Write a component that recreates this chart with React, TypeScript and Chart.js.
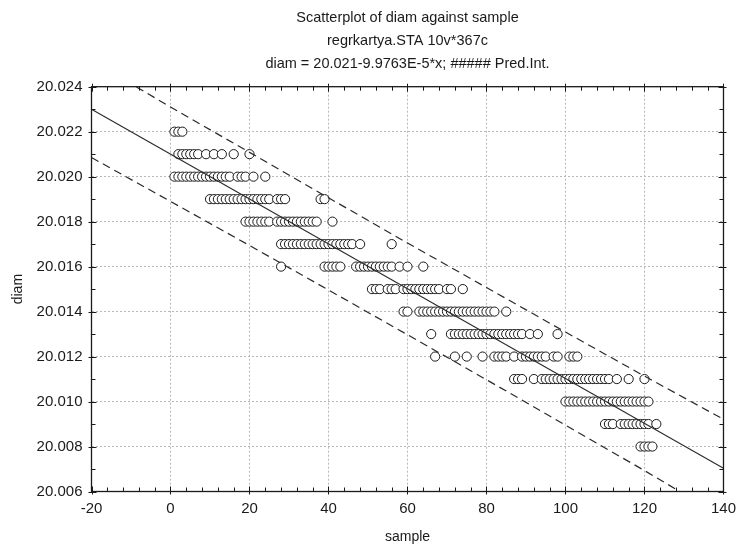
import { useEffect, useRef } from "react";
import { Chart, registerables } from "chart.js";

Chart.register(...registerables);

const titleLines = [
  "Scatterplot of diam against sample",
  "regrkartya.STA 10v*367c",
  "diam = 20.021-9.9763E-5*x; ##### Pred.Int.",
];
const xAxisTitle = "sample";
const yAxisTitle = "diam";

const xMin = -20;
const xMax = 140;
const xStep = 20;
const xMinorStep = 4;
const yMin = 20.006;
const yMax = 20.024;
const yStep = 0.002;
const yMinorStep = 0.001;

// sample numbers observed at each diam level
const d022 = [1, 2, 3];
const d021 = [2, 3, 4, 5, 6, 7, 9, 11, 13, 16, 20];
const d020 = [1, 2, 3, 4, 5, 6, 7, 8, 9, 10, 11, 12, 13, 14, 15, 17, 18, 19, 21, 24];
const d019 = [10, 11, 12, 13, 14, 15, 16, 17, 18, 19, 20, 21, 22, 23, 24, 25, 27, 28, 29, 38, 39];
const d018 = [19, 20, 21, 22, 23, 24, 25, 27, 28, 29, 30, 31, 32, 33, 34, 35, 36, 37, 41];
const d017 = [28, 29, 30, 31, 32, 33, 34, 35, 36, 37, 38, 39, 40, 41, 42, 43, 44, 45, 46, 48, 56];
const d016 = [28, 39, 40, 41, 42, 43, 47, 48, 49, 50, 51, 52, 53, 54, 55, 56, 58, 60, 64];
const d015 = [51, 52, 53, 55, 56, 57, 59, 60, 61, 62, 63, 64, 65, 66, 67, 68, 70, 71, 74];
const d014 = [59, 60, 63, 64, 65, 66, 67, 68, 69, 70, 71, 72, 73, 74, 75, 76, 77, 78, 79, 80, 81, 82, 85];
const d013 = [66, 71, 72, 73, 74, 75, 76, 77, 78, 79, 80, 81, 82, 83, 84, 85, 86, 87, 88, 89, 91, 93, 98];
const d012 = [67, 72, 75, 79, 82, 83, 84, 85, 87, 89, 90, 91, 92, 93, 94, 95, 97, 98, 101, 102, 103];
const d011 = [87, 88, 89, 92, 94, 95, 96, 97, 98, 99, 100, 101, 102, 103, 104, 105, 106, 107, 108, 109, 110, 111, 113, 116, 120];
const d010 = [100, 101, 102, 103, 104, 105, 106, 107, 108, 109, 110, 111, 112, 113, 114, 115, 116, 117, 118, 119, 120, 121];
const d009 = [110, 111, 112, 114, 115, 116, 117, 118, 119, 120, 121, 123];
const d008 = [119, 120, 121, 122];

const diamLevels = [
  20.022, 20.021, 20.02, 20.019, 20.018, 20.017, 20.016, 20.015, 20.014, 20.013, 20.012, 20.011, 20.01,
  20.009, 20.008,
];
const samplesAtLevel = [d022, d021, d020, d019, d018, d017, d016, d015, d014, d013, d012, d011, d010, d009, d008];

// fitted line end points
const fitX = [-20, 140];
const fitY = [20.022995, 20.007033];

// prediction interval
const bandX = [-20, 0, 20, 40, 60, 80, 100, 120, 140];
const bandUpper = [20.02515, 20.0231, 20.02108, 20.01906, 20.01705, 20.01507, 20.01309, 20.01113, 20.00921];
const bandLower = [20.02085, 20.0189, 20.01694, 20.01496, 20.01297, 20.01097, 20.00895, 20.00693, 20.00485];

const FONT = '"Liberation Sans", Arial, sans-serif';
const INK = "#1a1a1a";

const framePlugin = {
  id: "statFrame",
  afterDraw(chart: any) {
    const { ctx, chartArea } = chart;
    const { left, right, top, bottom } = chartArea;
    const xs = chart.scales.x;
    const ys = chart.scales.y;
    ctx.save();
    ctx.strokeStyle = INK;
    ctx.lineWidth = 1.3;
    ctx.strokeRect(left, top, right - left, bottom - top);
    ctx.lineWidth = 1;
    ctx.beginPath();
    const nx = Math.round((xMax - xMin) / xMinorStep);
    for (let i = 0; i <= nx; i++) {
      const v = xMin + i * xMinorStep;
      const px = Math.round(xs.getPixelForValue(v)) + 0.5;
      const major = Math.abs((v - xMin) / xStep - Math.round((v - xMin) / xStep)) < 1e-6;
      const len = major ? 5 : 4;
      ctx.moveTo(px, bottom + (major ? 3 : 0));
      ctx.lineTo(px, bottom - len);
      ctx.moveTo(px, top - (major ? 3 : 0));
      ctx.lineTo(px, top + len);
    }
    const ny = Math.round((yMax - yMin) / yMinorStep);
    for (let i = 0; i <= ny; i++) {
      const v = yMin + i * yMinorStep;
      const py = Math.round(ys.getPixelForValue(v)) + 0.5;
      const major = i % 2 === 0;
      const len = major ? 5 : 4;
      ctx.moveTo(left - (major ? 3 : 0), py);
      ctx.lineTo(left + len, py);
      ctx.moveTo(right + (major ? 3 : 0), py);
      ctx.lineTo(right - len, py);
    }
    ctx.stroke();

    ctx.fillStyle = INK;
    ctx.font = `14.5px ${FONT}`;
    ctx.textAlign = "center";
    ctx.textBaseline = "middle";
    const cx = (left + right) / 2;
    const ty = [18, 41, 64];
    titleLines.forEach((t, i) => ctx.fillText(t, cx, ty[i]));
    ctx.restore();
  },
};

export default function App() {
  const ref = useRef<HTMLCanvasElement | null>(null);

  useEffect(() => {
    if (!ref.current) return;
    const points: { x: number; y: number }[] = [];
    samplesAtLevel.forEach((xsArr, i) => {
      xsArr.forEach((s) => points.push({ x: s, y: diamLevels[i] }));
    });
    const fitData = fitX.map((x, i) => ({ x, y: fitY[i] }));
    const upData = bandX.map((x, i) => ({ x, y: bandUpper[i] }));
    const loData = bandX.map((x, i) => ({ x, y: bandLower[i] }));

    const chart = new Chart(ref.current, {
      type: "scatter",
      data: {
        datasets: [
          {
            label: "fit",
            data: fitData,
            showLine: true,
            borderColor: "#2a2a2a",
            borderWidth: 1.1,
            pointRadius: 0,
            fill: false,
            order: 0,
          },
          {
            label: "upper",
            data: upData,
            showLine: true,
            borderColor: "#2a2a2a",
            borderWidth: 1.2,
            borderDash: [8, 5],
            pointRadius: 0,
            fill: false,
            order: 0,
          },
          {
            label: "lower",
            data: loData,
            showLine: true,
            borderColor: "#2a2a2a",
            borderWidth: 1.2,
            borderDash: [8, 5],
            pointRadius: 0,
            fill: false,
            order: 0,
          },
          {
            label: "diam",
            data: points,
            pointRadius: 4.6,
            pointBorderWidth: 1,
            pointBorderColor: INK,
            pointBackgroundColor: "#ffffff",
            order: 1,
          },
        ],
      } as any,
      options: {
        responsive: false,
        animation: false,
        events: [],
        layout: { padding: { top: 86.7, right: 16, left: 0, bottom: 0 } },
        plugins: { legend: { display: false }, tooltip: { enabled: false }, title: { display: false } },
        scales: {
          x: {
            type: "linear",
            min: xMin,
            max: xMax,
            afterFit: (s: any) => {
              s.height = 61.5;
            },
            ticks: {
              stepSize: xStep,
              color: INK,
              font: { family: FONT, size: 15 },
              padding: 8,
              maxRotation: 0,
            },
            grid: { color: "#b8b8b8", lineWidth: 1, drawTicks: false },
            border: { display: false, dash: [2, 2] },
            title: {
              display: true,
              text: xAxisTitle,
              color: INK,
              font: { family: FONT, size: 14 },
              padding: { top: 0, bottom: 7.5 },
            },
          },
          y: {
            type: "linear",
            min: yMin,
            max: yMax,
            afterFit: (s: any) => {
              s.width = 91.5;
            },
            ticks: {
              stepSize: yStep,
              color: INK,
              font: { family: FONT, size: 15 },
              padding: 9,
              callback: (v: any) => Number(v).toFixed(3),
            },
            grid: { color: "#b8b8b8", lineWidth: 1, drawTicks: false },
            border: { display: false, dash: [2, 2] },
            title: {
              display: true,
              text: yAxisTitle,
              color: INK,
              font: { family: FONT, size: 14 },
              padding: { top: 10, bottom: 0 },
            },
          },
        },
      } as any,
      plugins: [framePlugin],
    });
    return () => chart.destroy();
  }, []);

  return (
    <div style={{ position: "fixed", left: 0, top: 0, width: 744, height: 553, background: "#fff" }}>
      <canvas ref={ref} width={744} height={553} style={{ display: "block" }} />
    </div>
  );
}
